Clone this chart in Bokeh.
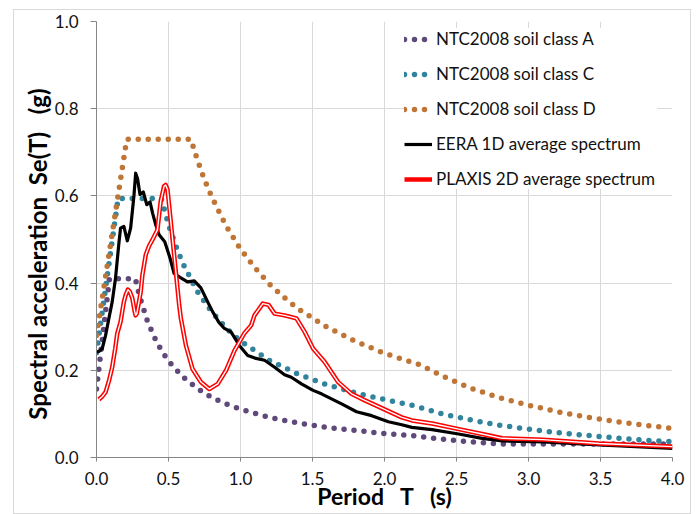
from bokeh.plotting import figure
from bokeh.models import Legend, LegendItem, Range1d, FixedTicker
from bokeh.embed import file_html
from bokeh.resources import INLINE

# NTC2008 elastic spectra (period T in s, Se in g)
t_A = [0.0, 0.09, 0.27, 0.30, 0.35, 0.40, 0.45, 0.50, 0.60, 0.70, 0.80, 0.90, 1.00,
       1.20, 1.40, 1.60, 1.80, 2.00, 2.20, 2.40, 2.60, 2.80, 3.00, 3.50, 4.00]
se_A = [0.157, 0.41, 0.41, 0.369, 0.316, 0.277, 0.246, 0.221, 0.185, 0.158, 0.138, 0.123, 0.111,
        0.092, 0.079, 0.069, 0.062, 0.055, 0.050, 0.042, 0.036, 0.031, 0.031, 0.031, 0.031]

t_C = [0.0, 0.15, 0.45, 0.50, 0.55, 0.60, 0.70, 0.80, 0.90, 1.00, 1.20, 1.40, 1.60,
       1.80, 2.00, 2.20, 2.40, 2.60, 2.80, 3.00, 3.20, 3.40, 3.60, 3.80, 4.00]
se_C = [0.24, 0.594, 0.594, 0.534, 0.486, 0.445, 0.381, 0.334, 0.297, 0.267, 0.223, 0.191, 0.167,
        0.148, 0.133, 0.119, 0.100, 0.086, 0.074, 0.065, 0.057, 0.051, 0.045, 0.040, 0.036]

t_D = [0.0, 0.21, 0.655, 0.70, 0.75, 0.80, 0.90, 1.00, 1.10, 1.20, 1.30, 1.40, 1.60,
       1.80, 2.00, 2.25, 2.40, 2.60, 2.80, 3.00, 3.20, 3.40, 3.60, 3.80, 4.00]
se_D = [0.28, 0.73, 0.73, 0.683, 0.637, 0.598, 0.531, 0.478, 0.435, 0.398, 0.368, 0.341, 0.299,
        0.266, 0.239, 0.212, 0.187, 0.159, 0.137, 0.120, 0.105, 0.093, 0.083, 0.074, 0.067]

# EERA 1D average response spectrum
t_eera = [0.0, 0.02, 0.04, 0.063, 0.086, 0.109, 0.132, 0.155, 0.167, 0.19, 0.214, 0.237, 0.26,
          0.272, 0.285, 0.302, 0.325, 0.349, 0.372, 0.39, 0.411, 0.435, 0.474, 0.511, 0.539,
          0.586, 0.632, 0.679, 0.725, 0.772, 0.807, 0.85, 0.888, 0.934, 0.992, 1.05, 1.10,
          1.167, 1.237, 1.306, 1.353, 1.423, 1.504, 1.562, 1.702, 1.806, 1.911, 2.027, 2.12,
          2.19, 2.33, 2.515, 2.678, 2.817, 3.10, 3.49, 4.0]
se_eera = [0.242, 0.244, 0.25, 0.28, 0.319, 0.357, 0.411, 0.49, 0.526, 0.53, 0.497, 0.526, 0.6,
           0.652, 0.64, 0.603, 0.609, 0.58, 0.586, 0.56, 0.534, 0.511, 0.495, 0.457, 0.422,
           0.412, 0.403, 0.405, 0.389, 0.357, 0.334, 0.31, 0.296, 0.288, 0.257, 0.234, 0.228,
           0.223, 0.207, 0.19, 0.184, 0.169, 0.154, 0.146, 0.123, 0.105, 0.096, 0.082, 0.075,
           0.069, 0.064, 0.054, 0.044, 0.038, 0.036, 0.029, 0.021]

# PLAXIS 2D average response spectrum
t_plaxis = [0.016, 0.04, 0.063, 0.086, 0.109, 0.13, 0.144, 0.167, 0.19, 0.202, 0.218, 0.232,
            0.249, 0.265, 0.272, 0.28, 0.295, 0.307, 0.319, 0.342, 0.365, 0.388, 0.423, 0.446,
            0.469, 0.48, 0.493, 0.516, 0.551, 0.574, 0.586, 0.621, 0.667, 0.725, 0.783, 0.842,
            0.9, 0.958, 1.027, 1.074, 1.097, 1.155, 1.195, 1.237, 1.306, 1.388, 1.446, 1.504,
            1.585, 1.678, 1.771, 1.864, 2.015, 2.12, 2.19, 2.33, 2.515, 2.678, 2.817, 3.10,
            3.49, 4.0]
se_plaxis = [0.133, 0.14, 0.15, 0.175, 0.207, 0.25, 0.284, 0.311, 0.357, 0.372, 0.385, 0.38,
             0.365, 0.335, 0.326, 0.33, 0.357, 0.38, 0.419, 0.465, 0.485, 0.499, 0.522, 0.588,
             0.622, 0.625, 0.615, 0.541, 0.426, 0.35, 0.319, 0.257, 0.203, 0.173, 0.157, 0.169,
             0.2, 0.245, 0.285, 0.303, 0.326, 0.353, 0.35, 0.33, 0.326, 0.319, 0.288, 0.25,
             0.219, 0.173, 0.146, 0.131, 0.108, 0.092, 0.085, 0.078, 0.065, 0.054, 0.044, 0.041,
             0.032, 0.025]

x_ticks = [0.0, 0.5, 1.0, 1.5, 2.0, 2.5, 3.0, 3.5, 4.0]
y_ticks = [0.0, 0.2, 0.4, 0.6, 0.8, 1.0]

FONT = "Lato"
NB = "\u00a0"

p = figure(width=678, height=505, output_backend="svg", toolbar_location=None,
           x_range=Range1d(0, 4), y_range=Range1d(0, 1),
           min_border_left=82, min_border_right=20, min_border_top=11, min_border_bottom=58)
p.styles = {"margin-left": "13px", "margin-top": "9px", "border": "1px solid #d9d9d9"}
p.outline_line_color = None
p.background_fill_color = "white"

for ax in (p.xaxis[0], p.yaxis[0]):
    ax.axis_line_color = "#868686"
    ax.major_tick_line_color = "#868686"
    ax.minor_tick_line_color = None
    ax.major_tick_in = 0
    ax.major_label_text_font = FONT
    ax.major_label_text_font_size = "17px"
    ax.major_label_text_color = "#111111"
    ax.axis_label_text_font = FONT
    ax.axis_label_text_font_style = "bold"
    ax.axis_label_text_color = "black"

p.xaxis.axis_label_text_font_size = "23px"
p.yaxis.axis_label_text_font_size = "24px"
p.xaxis.ticker = FixedTicker(ticks=x_ticks)
p.yaxis.ticker = FixedTicker(ticks=y_ticks)
p.xaxis.major_label_overrides = {t: f"{t:.1f}" for t in x_ticks}
p.yaxis.major_label_overrides = {t: f"{t:.1f}" for t in y_ticks}
p.xaxis.major_tick_out = 4
p.yaxis.major_tick_out = 6
p.xaxis.major_label_standoff = 10
p.yaxis.major_label_standoff = 12
p.xaxis.axis_label = f"Period{NB*3}T{NB*3}(s)"
p.yaxis.axis_label = f"Spectral acceleration{NB*2}Se(T){NB*3}(g)" + NB * 5
p.xaxis.axis_label_standoff = -6
p.yaxis.axis_label_standoff = 0

p.xgrid.ticker = FixedTicker(ticks=x_ticks)
p.ygrid.ticker = FixedTicker(ticks=y_ticks)
p.grid.grid_line_color = "#d9d9d9"
p.grid.grid_line_width = 1

dot = dict(line_width=5.5, line_dash="0 10", line_cap="round")
rA = p.line(t_A, se_A, line_color="#5f497a", **dot)
rC = p.line(t_C, se_C, line_color="#31849b", **dot)
rD = p.line(t_D, se_D, line_color="#bf7535", **dot)
rE = p.line(t_eera, se_eera, line_color="black", line_width=3.2, line_join="round")
rP = p.line(t_plaxis, se_plaxis, line_color="#ff0000", line_width=4.5, line_join="round")
p.line(t_plaxis, se_plaxis, line_color="white", line_width=1.4, line_join="round")

# legend anchored by its bottom-left corner, in pixels from the frame's bottom-left
legend = Legend(items=[
    LegendItem(label="NTC2008 soil class A", renderers=[rA]),
    LegendItem(label="NTC2008 soil class C", renderers=[rC]),
    LegendItem(label="NTC2008 soil class D", renderers=[rD]),
    LegendItem(label="EERA 1D average spectrum", renderers=[rE]),
    LegendItem(label="PLAXIS 2D average spectrum", renderers=[rP]),
], location=(308, 268))
legend.margin = 0
legend.padding = 10
legend.spacing = 14
legend.glyph_width = 28
legend.glyph_height = 20
legend.label_height = 20
legend.label_width = 221
legend.label_standoff = 4
legend.label_text_font = FONT
legend.label_text_font_size = "17px"
legend.label_text_color = "#111111"
legend.background_fill_color = "white"
legend.background_fill_alpha = 1.0
legend.border_line_color = None
p.add_layout(legend)

open("out.html", "w").write(file_html(p, INLINE))
